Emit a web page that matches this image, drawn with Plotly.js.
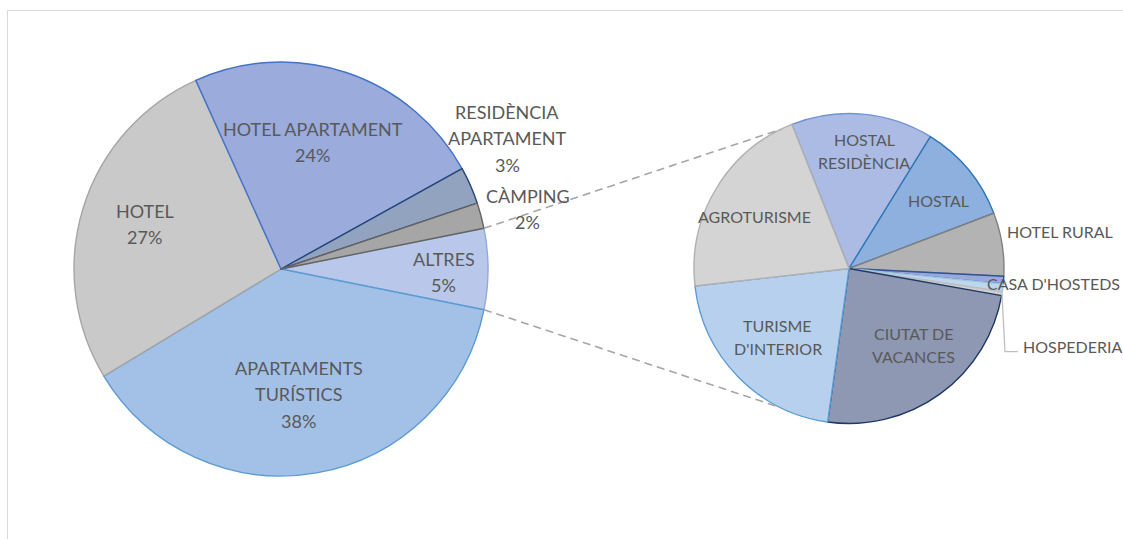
<!DOCTYPE html>
<html><head><meta charset="utf-8">
<script src="https://cdn.plot.ly/plotly-3.0.1.min.js"></script>
<style>html,body{margin:0;padding:0;background:#fff}#chart{width:1123px;height:539px}</style>
</head><body><div id="chart"></div>
<script>
// ---------------- data ----------------
const mainLabels = ['ALTRES', 'APARTAMENTS TURÍSTICS', 'HOTEL', 'HOTEL APARTAMENT', 'RESIDÈNCIA APARTAMENT', 'CÀMPING'];
const mainValues = [6.3, 38.2, 26.9, 23.7, 2.9, 2.0];
const mainShownPct = [5, 38, 27, 24, 3, 2];

const subLabels = ['HOSTAL RESIDÈNCIA', 'HOSTAL', 'HOTEL RURAL', "CASA D'HOSTEDS", 'ALTRES (sense etiqueta)', 'HOSPEDERIA', 'CIUTAT DE VACANCES', "TURISME D'INTERIOR", 'AGROTURISME'];
const subValues = [14.8, 10.4, 6.6, 0.8, 0.8, 0.4, 24.4, 21.0, 20.8];

// ---------------- styles / layout ----------------
const W = 1123, H = 539;
const MAIN = {cx: 281, cy: 269, r: 207};
const SUB = {cx: 849, cy: 268.5, r: 155};
const FONT = 'Lato, "Open Sans", sans-serif';
const TXT = '#595959';

const mainColors = ['#b9c8ea', '#a3c1e6', '#c9c9c9', '#9aabdc', '#91a3bf', '#a6a6a6'];
const mainLines  = ['#8faadc', '#5b9bd5', '#a5a5a5', '#4472c4', '#264478', '#636363'];
const subColors  = ['#abbbe4', '#8db0df', '#b3b3b3', '#9ba8dc', '#bdd7ee', '#d0d0d0', '#8e98b2', '#b6d0ee', '#d4d4d4'];
const subLines   = ['#6f93d4', '#2e75b6', '#808080', '#2f5597', '#9dc3e6', '#bfbfbf', '#203864', '#5b9bd5', '#b0b0b0'];

function domainOf(p) {
  return {x: [(p.cx - p.r) / W, (p.cx + p.r) / W], y: [1 - (p.cy + p.r) / H, 1 - (p.cy - p.r) / H]};
}
const sum = a => a.reduce((s, v) => s + v, 0);
const mainTotal = sum(mainValues), subTotal = sum(subValues);
const altresDeg = mainValues[0] / mainTotal * 360;
const mainRot = 90 - altresDeg / 2;
const subRot = -21.6;

function pt(p, bearingDeg) {
  const b = bearingDeg * Math.PI / 180;
  return [p.cx + p.r * Math.sin(b), p.cy - p.r * Math.cos(b)];
}
const px = x => x / W, py = y => 1 - y / H;

// ---------------- traces ----------------
const traces = [
  {
    type: 'pie', labels: mainLabels, values: mainValues, sort: false, direction: 'clockwise',
    rotation: mainRot, domain: domainOf(MAIN), textinfo: 'none', hoverinfo: 'label+percent',
    marker: {colors: mainColors, line: {color: mainLines, width: 1.4}}
  },
  {
    type: 'pie', labels: subLabels, values: subValues, sort: false, direction: 'clockwise',
    rotation: subRot, domain: domainOf(SUB), textinfo: 'none', hoverinfo: 'label+percent',
    marker: {colors: subColors, line: {color: subLines, width: 1.4}}
  }
];

// ---------------- connectors ----------------
const shapes = [];
const a1 = pt(MAIN, mainRot), a2 = pt(MAIN, mainRot + altresDeg);
const b1 = pt(SUB, -26.2), b2 = pt(SUB, 206.2);
[[a1, b1], [a2, b2]].forEach(([s, e]) => shapes.push({
  type: 'line', xref: 'paper', yref: 'paper', x0: px(s[0]), y0: py(s[1]), x1: px(e[0]), y1: py(e[1]),
  line: {color: '#a6a6a6', width: 1.6, dash: '8px,5px'}
}));
// leader line for HOSPEDERIA
(function () {
  const idx = subLabels.indexOf('HOSPEDERIA');
  const before = sum(subValues.slice(0, idx));
  const mid = subRot + (before + subValues[idx] / 2) / subTotal * 360;
  const s = pt(SUB, mid);
  const path = `M ${px(s[0])} ${py(s[1])} L ${px(1005)} ${py(351.7)} L ${px(1018)} ${py(351.7)}`;
  shapes.push({type: 'path', xref: 'paper', yref: 'paper', path: path, line: {color: '#bfbfbf', width: 1.3}});
})();
// chart frame
shapes.push({type: 'rect', xref: 'paper', yref: 'paper', x0: px(7.5), y0: py(10.5), x1: px(W + 5), y1: py(H + 5),
  line: {color: '#d9d9d9', width: 1}});

// ---------------- labels ----------------
const annotations = [];
function addLabel(lines, cx, cy, size, gap) {
  const n = lines.length;
  lines.forEach((t, i) => annotations.push({
    xref: 'paper', yref: 'paper', x: px(cx), y: py(cy + (i - (n - 1) / 2) * gap),
    text: t, showarrow: false, xanchor: 'center', yanchor: 'middle',
    font: {family: FONT, size: size, color: TXT}
  }));
}
function splitAt(label, breaks) {
  const w = label.split(' ');
  if (!breaks.length) return [label];
  const out = []; let last = 0;
  breaks.concat([w.length]).forEach(b => { out.push(w.slice(last, b).join(' ')); last = b; });
  return out;
}
// main pie label placement: [x, y, word breaks]
const mainPlace = [
  [443.7, 272.3, []],
  [298.5, 394.2, [1]],
  [144.6, 224.2, []],
  [312.5, 141.7, []],
  [507, 138.3, [1]],
  [527.5, 209.3, []]
];
mainLabels.forEach((lab, i) => {
  const [x, y, br] = mainPlace[i];
  addLabel(splitAt(lab, br).concat([mainShownPct[i] + '%']), x, y, 18, 26.3);
});
const subPlace = [
  [864, 150.8, [1]],
  [938.3, 200.3, []],
  [1060.3, 231, []],
  [1053, 283.8, []],
  null,
  [1072, 346.3, []],
  [913, 345.3, [2]],
  [778, 336.7, [1]],
  [754.7, 216.3, []]
];
subLabels.forEach((lab, i) => {
  if (!subPlace[i]) return;
  const [x, y, br] = subPlace[i];
  addLabel(splitAt(lab, br), x, y, 16, 23);
});

Plotly.newPlot('chart', traces, {
  width: W, height: H, margin: {l: 0, r: 0, t: 0, b: 0},
  paper_bgcolor: '#ffffff', plot_bgcolor: '#ffffff', showlegend: false,
  shapes: shapes, annotations: annotations
}, {displayModeBar: false, staticPlot: true});
</script>
</body></html>
